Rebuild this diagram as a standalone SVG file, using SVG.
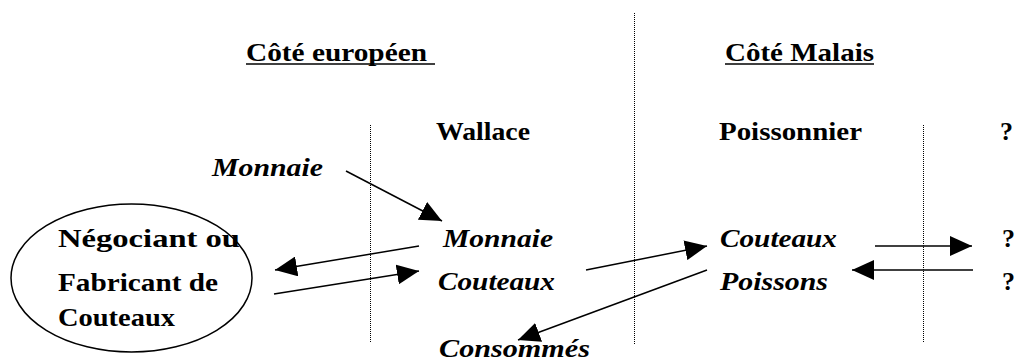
<svg xmlns="http://www.w3.org/2000/svg" width="1016" height="363" viewBox="0 0 1016 363">
<style>
  .t { font-family: 'Liberation Serif', serif; font-weight: bold; font-size: 26px; fill: #000; }
  .it { font-style: italic; }
  .sep { stroke: #000; stroke-width: 1; stroke-dasharray: 1 1; fill: none; }
  .conn { stroke: #000; stroke-width: 1.5; fill: none; marker-end: url(#arrow); }
  .ul { stroke: #000; stroke-width: 1.6; }
</style>
<defs>
  <marker id="arrow" markerUnits="userSpaceOnUse" markerWidth="22" markerHeight="20" refX="22" refY="10" orient="auto">
    <path d="M0,0 L22,10 L0,20 z" fill="#000"/>
  </marker>
</defs>
<rect width="1016" height="363" fill="#fff"/>

<g id="separators">
  <line class="sep" x1="370.5" y1="125" x2="370.5" y2="342"/>
  <line class="sep" x1="634.5" y1="13" x2="634.5" y2="345"/>
  <line class="sep" x1="923.5" y1="125" x2="923.5" y2="342"/>
</g>

<g id="headings">
  <g id="cote-europeen">
    <text class="t" x="246" y="61" textLength="181" lengthAdjust="spacingAndGlyphs">Côté européen</text>
    <line class="ul" x1="246" y1="64" x2="435" y2="64"/>
  </g>
  <g id="cote-malais">
    <text class="t" x="725" y="61" textLength="149" lengthAdjust="spacingAndGlyphs">Côté Malais</text>
    <line class="ul" x1="725" y1="64" x2="874" y2="64"/>
  </g>
</g>

<g id="node-wallace"><text class="t" x="436" y="140" textLength="94" lengthAdjust="spacingAndGlyphs">Wallace</text></g>
<g id="node-poissonnier"><text class="t" x="719" y="140" textLength="143" lengthAdjust="spacingAndGlyphs">Poissonnier</text></g>
<g id="node-q-top"><text class="t" x="1000" y="140">?</text></g>

<g id="node-monnaie-top"><text class="t it" x="212" y="176" textLength="111" lengthAdjust="spacingAndGlyphs">Monnaie</text></g>

<g id="node-negociant">
  <ellipse cx="131.5" cy="278" rx="120.5" ry="74" fill="none" stroke="#000" stroke-width="1.5"/>
  <text class="t" x="58" y="247" textLength="182" lengthAdjust="spacingAndGlyphs">Négociant ou</text>
  <text class="t" x="58" y="291" textLength="160" lengthAdjust="spacingAndGlyphs">Fabricant de</text>
  <text class="t" x="58" y="326" textLength="117" lengthAdjust="spacingAndGlyphs">Couteaux</text>
</g>

<g id="node-monnaie-mid"><text class="t it" x="443" y="247" textLength="110" lengthAdjust="spacingAndGlyphs">Monnaie</text></g>
<g id="node-couteaux-mid"><text class="t it" x="438" y="290" textLength="117" lengthAdjust="spacingAndGlyphs">Couteaux</text></g>
<g id="node-consommes"><text class="t it" x="439" y="357" textLength="151" lengthAdjust="spacingAndGlyphs">Consommés</text></g>

<g id="node-couteaux-right"><text class="t it" x="720" y="247" textLength="117" lengthAdjust="spacingAndGlyphs">Couteaux</text></g>
<g id="node-poissons"><text class="t it" x="720" y="290" textLength="108" lengthAdjust="spacingAndGlyphs">Poissons</text></g>

<g id="node-q1"><text class="t" x="1002" y="247">?</text></g>
<g id="node-q2"><text class="t" x="1002" y="290">?</text></g>

<g id="connectors">
  <line class="conn" x1="346" y1="171" x2="442" y2="221"/>
  <line class="conn" x1="419" y1="246" x2="275" y2="270"/>
  <line class="conn" x1="274" y1="294" x2="419" y2="271"/>
  <line class="conn" x1="586" y1="270" x2="707" y2="246"/>
  <line class="conn" x1="707" y1="270" x2="518" y2="340"/>
  <line class="conn" x1="875" y1="246" x2="972" y2="246"/>
  <line class="conn" x1="973" y1="270" x2="852" y2="270"/>
</g>
</svg>
